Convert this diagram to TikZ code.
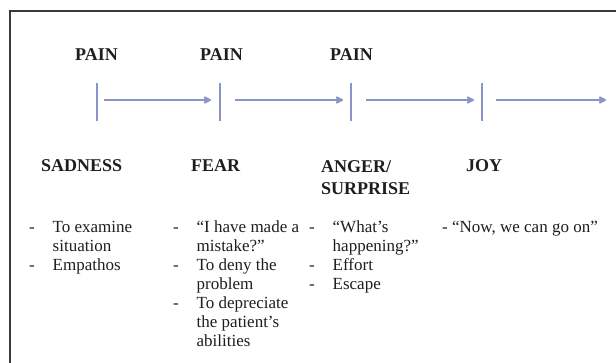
\documentclass[tikz,border=0pt]{standalone}
\usepackage{fontspec}
\setmainfont{Liberation Serif}
\usetikzlibrary{arrows.meta}
\definecolor{arrowcol}{HTML}{8A94CA}
\definecolor{framecol}{HTML}{3A3A3A}
\definecolor{textcol}{HTML}{1E1E1E}
\newcommand\dashitem{\makebox[23.5pt][l]{-}}
\newcommand\contitem{\makebox[23.5pt][l]{}}
\newcommand\firstline{\rule{0pt}{13pt}}
\begin{document}
\begin{tikzpicture}[x=1pt,y=-1pt,
  heading/.style={font=\fontsize{18}{22}\selectfont\bfseries, text=textcol, inner sep=0pt, anchor=base west},
  headingtwo/.style={font=\fontsize{18}{22}\selectfont\bfseries, text=textcol, inner sep=0pt, anchor=north west, align=left},
  itemlist/.style={font=\fontsize{17}{19}\selectfont, text=textcol, inner sep=0pt, anchor=north west, align=left},
  tickline/.style={draw=arrowcol, line width=2.4pt},
  flow/.style={draw=arrowcol, line width=2.5pt, -{Stealth[length=9pt,width=9pt,inset=2pt,round]}}]
\path[use as bounding box] (0,0) rectangle (616,363);
\draw[framecol, line width=1.6pt] (10,363) -- (10,11) -- (616,11);

% PAIN labels
\node[heading] (pain1) at (75,61) {PAIN};
\node[heading] (pain2) at (200,61) {PAIN};
\node[heading] (pain3) at (330,61) {PAIN};

% ticks
\coordinate (t1a) at (97,83);  \coordinate (t1b) at (97,121);
\coordinate (t2a) at (220,83); \coordinate (t2b) at (220,121);
\coordinate (t3a) at (351,83); \coordinate (t3b) at (351,121);
\coordinate (t4a) at (482,83); \coordinate (t4b) at (482,121);
\draw[tickline] (t1a) -- (t1b);
\draw[tickline] (t2a) -- (t2b);
\draw[tickline] (t3a) -- (t3b);
\draw[tickline] (t4a) -- (t4b);

% arrows
\coordinate (a1s) at (104,100); \coordinate (a1e) at (211,100);
\coordinate (a2s) at (235,100); \coordinate (a2e) at (343,100);
\coordinate (a3s) at (366,100); \coordinate (a3e) at (474,100);
\coordinate (a4s) at (496,100); \coordinate (a4e) at (606,100);
\draw[flow] (a1s) -- (a1e);
\draw[flow] (a2s) -- (a2e);
\draw[flow] (a3s) -- (a3e);
\draw[flow] (a4s) -- (a4e);

% headings
\node[heading] (sadness) at (41,172) {SADNESS};
\node[heading] (fear) at (191,172) {FEAR};
\node[headingtwo] (anger) at (321,159) {\firstline ANGER/\\SURPRISE};
\node[heading] (joy) at (466,172) {JOY};

% lists
\node[itemlist] (sadlist) at (29,219) {\firstline\dashitem To examine\\\contitem situation\\\dashitem Empathos};
\node[itemlist] (fearlist) at (173,219) {\firstline\dashitem “I have made a\\\contitem mistake?"\\\dashitem To deny the\\\contitem problem\\\dashitem To depreciate\\\contitem the patient’s\\\contitem abilities};
\node[itemlist] (angerlist) at (309,219) {\firstline\dashitem “What’s\\\contitem happening?"\\\dashitem Effort\\\dashitem Escape};
\node[itemlist] (joylist) at (442,219) {\firstline - “Now, we can go on"};
\end{tikzpicture}
\end{document}
